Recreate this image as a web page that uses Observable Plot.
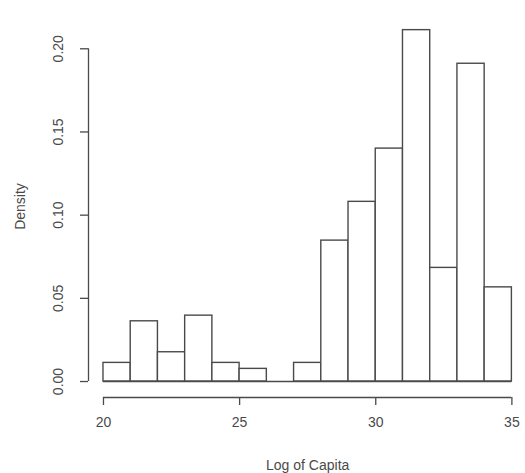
<!DOCTYPE html>
<html>
<head>
<meta charset="utf-8">
<script src="https://cdn.jsdelivr.net/npm/d3@7"></script>
<script src="https://cdn.jsdelivr.net/npm/@observablehq/plot@0.6"></script>
<style>
  html, body { margin: 0; padding: 0; background: #fff; }
  svg { font-family: "Liberation Sans", Arial, sans-serif; }
</style>
</head>
<body>
<div id="chart"></div>
<script>
// Histogram bins (left edges, width 1) and their densities
const binStarts = [20, 21, 22, 23, 24, 25, 26, 27, 28, 29, 30, 31, 32, 33, 34];
const densities = [0.0112, 0.0362, 0.0176, 0.0396, 0.0112, 0.0076, 0.0, 0.0112, 0.0847, 0.108, 0.140, 0.2112, 0.0683, 0.191, 0.0566];
const xTicks = [20, 25, 30, 35];
const yTicks = [0, 0.05, 0.10, 0.15, 0.20];
const xLabel = "Log of Capita";
const yLabel = "Density";

const bins = binStarts.map((s, i) => ({x1: s, x2: s + 1, y: densities[i]}));

const xMin = 19.45, yMin = -0.0096;
const ink = "#4a4a4a";

const chart = Plot.plot({
  width: 525,
  height: 473,
  marginLeft: 88,
  marginRight: 0,
  marginTop: 15,
  marginBottom: 76,
  style: {fontSize: "14px", color: ink, background: "#fff"},
  x: {domain: [xMin, 35.5]},
  y: {domain: [yMin, 0.22]},
  marks: [
    Plot.rectY(bins, {x1: "x1", x2: "x2", y: "y", fill: "white", stroke: ink, strokeWidth: 1.4, inset: 0}),
    // bottom edges of all bins (including empty ones)
    Plot.ruleY([0], {x1: binStarts[0], x2: binStarts[binStarts.length - 1] + 1, stroke: ink, strokeWidth: 1.4}),
    // x axis
    Plot.ruleY([yMin], {x1: xTicks[0], x2: xTicks[xTicks.length - 1], stroke: ink, strokeWidth: 1.3}),
    Plot.axisX({ticks: xTicks, tickSize: 8, tickPadding: 12, tickFormat: d3.format("d"), label: null, stroke: ink, strokeWidth: 1.3}),
    // y axis
    Plot.ruleX([xMin], {y1: yTicks[0], y2: yTicks[yTicks.length - 1], stroke: ink, strokeWidth: 1.3}),
    Plot.axisY({ticks: yTicks, tickSize: 8, tickFormat: () => "", label: null, stroke: ink, strokeWidth: 1.3}),
    Plot.text(yTicks, {y: d => d, text: d => d3.format(".2f")(d), frameAnchor: "left", dx: -30, rotate: -90, textAnchor: "middle", lineAnchor: "middle", fill: ink, fontSize: 14}),
    Plot.text([yLabel], {frameAnchor: "left", dx: -68, dy: 0, rotate: -90, textAnchor: "middle", lineAnchor: "middle", fill: ink, fontSize: 14}),
    Plot.text([xLabel], {x: 27.5, frameAnchor: "bottom", dy: 68, textAnchor: "middle", lineAnchor: "middle", fill: ink, fontSize: 14})
  ]
});
document.getElementById("chart").appendChild(chart);
</script>
</body>
</html>
